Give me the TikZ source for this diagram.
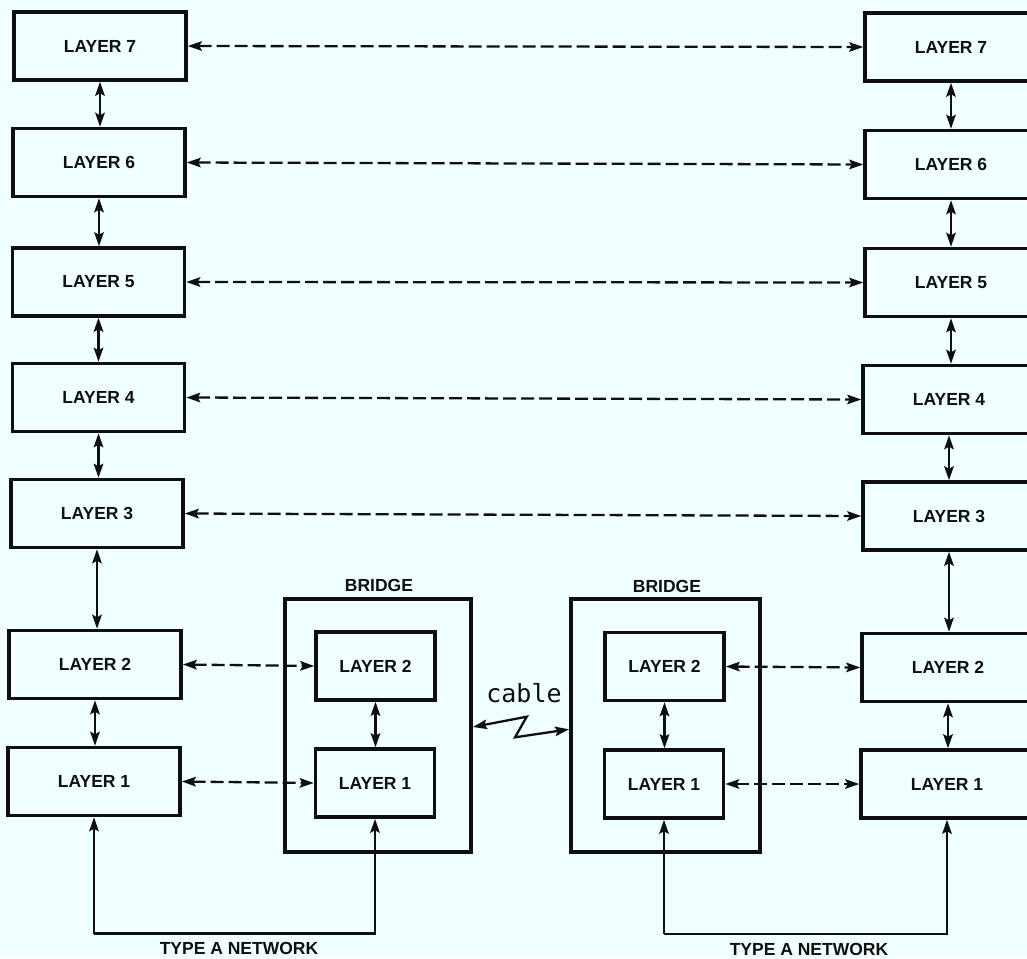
\documentclass[tikz,border=0pt]{standalone}
\usepackage{fontspec}
\setmainfont{Liberation Sans}
\newfontfamily\cablefont{DejaVu Sans Mono}
\usetikzlibrary{arrows.meta}
\definecolor{paper}{RGB}{240,255,255}
\definecolor{ink}{RGB}{15,15,15}
\tikzset{
  tip/.tip={Stealth[length=14pt,width=9.5pt,inset=2.5pt]},
  layerbox/.style={draw=ink, line width=3.5pt, fill=paper, minimum width=172pt, minimum height=68pt,
    inner sep=0pt, font=\bfseries\fontsize{17.5}{20}\selectfont, text=ink},
  innerbox/.style={layerbox, minimum width=119pt},
  bridgebox/.style={draw=ink, line width=4pt, minimum height=253pt, inner sep=0pt},
  lbl/.style={font=\bfseries\fontsize{17.5}{20}\selectfont, text=ink, inner sep=0pt},
  link/.style={draw=ink, line width=2.3pt, tip-tip},
  peer/.style={link, dash pattern=on 13pt off 5pt},
  uplink/.style={draw=ink, line width=2.3pt, -tip}
}
\begin{document}
\begin{tikzpicture}[x=1pt,y=-1pt]
\useasboundingbox (0,0) rectangle (1027,958);
\fill[paper] (0,0) rectangle (1027,958);
\clip (0,0) rectangle (1027,958);

% bridge enclosures
\node[bridgebox, minimum width=186pt] (B1) at (378,725.5) {};
\node[bridgebox, minimum width=189pt] (B2) at (665.5,725.5) {};
\node[lbl] (B1t) at (379,585) {BRIDGE};
\node[lbl] (B2t) at (667,586) {BRIDGE};

% left protocol stack
\node[layerbox] (L7) at (100,46) {LAYER 7};
\node[layerbox] (L6) at (99,162.5) {LAYER 6};
\node[layerbox] (L5) at (98.5,282) {LAYER 5};
\node[layerbox] (L4) at (98.5,397.5) {LAYER 4};
\node[layerbox] (L3) at (97,513.5) {LAYER 3};
\node[layerbox] (L2) at (95,664.5) {LAYER 2};
\node[layerbox] (L1) at (94,781.5) {LAYER 1};

% right protocol stack
\node[layerbox] (R7) at (951,47) {LAYER 7};
\node[layerbox] (R6) at (951,164.5) {LAYER 6};
\node[layerbox] (R5) at (951,282.5) {LAYER 5};
\node[layerbox] (R4) at (949,399.5) {LAYER 4};
\node[layerbox] (R3) at (949,516) {LAYER 3};
\node[layerbox] (R2) at (948,667.5) {LAYER 2};
\node[layerbox] (R1) at (947,784) {LAYER 1};

% layers inside the bridges
\node[innerbox] (BA2) at (375.5,666) {LAYER 2};
\node[innerbox] (BA1) at (375,783) {LAYER 1};
\node[innerbox] (BB2) at (664.5,666.5) {LAYER 2};
\node[innerbox] (BB1) at (664,784) {LAYER 1};

% peer-to-peer links
\draw[peer] (L7.east) -- (R7.west);
\draw[peer] (L6.east) -- (R6.west);
\draw[peer] (L5.east) -- (R5.west);
\draw[peer] (L4.east) -- (R4.west);
\draw[peer] (L3.east) -- (R3.west);
\draw[peer] (L2.east) -- (BA2.west);
\draw[peer] (L1.east) -- (BA1.west);
\draw[peer] (BB2.east) -- (R2.west);
\draw[peer] (BB1.east) -- (R1.west);

% interfaces between adjacent layers
\foreach \a/\b in {L7/L6,L6/L5,L5/L4,L4/L3,L3/L2,L2/L1,R7/R6,R6/R5,R5/R4,R4/R3,R3/R2,R2/R1,BA2/BA1,BB2/BB1}
  \draw[link] (\a.south) -- (\a.south |- \b.north);

% the two type A networks
\coordinate (netA) at (0,933.5);
\coordinate (netB) at (0,934);
\draw[uplink] (L1.south |- netA) -- (L1.south);
\draw[uplink] (L1.south |- netA) -| (BA1.south);
\draw[uplink] (BB1.south |- netB) -- (BB1.south);
\draw[uplink] (BB1.south |- netB) -| (R1.south);
\node[lbl] (netAt) at (239,948) {TYPE A NETWORK};
\node[lbl] (netBt) at (809,949) {TYPE A NETWORK};

% cable between the bridges
\coordinate (c0) at (471,727);
\coordinate (c1) at (526.7,716.7);
\coordinate (c2) at (515,737.3);
\coordinate (c3) at (571,729.3);
\draw[link] (B1.east |- c0) -- (c1) -- (c2) -- (B2.west |- c3);
\node[text=ink, inner sep=0pt, font=\cablefont\fontsize{25}{28}\selectfont] (cab) at (524,693) {cable};
\end{tikzpicture}
\end{document}
